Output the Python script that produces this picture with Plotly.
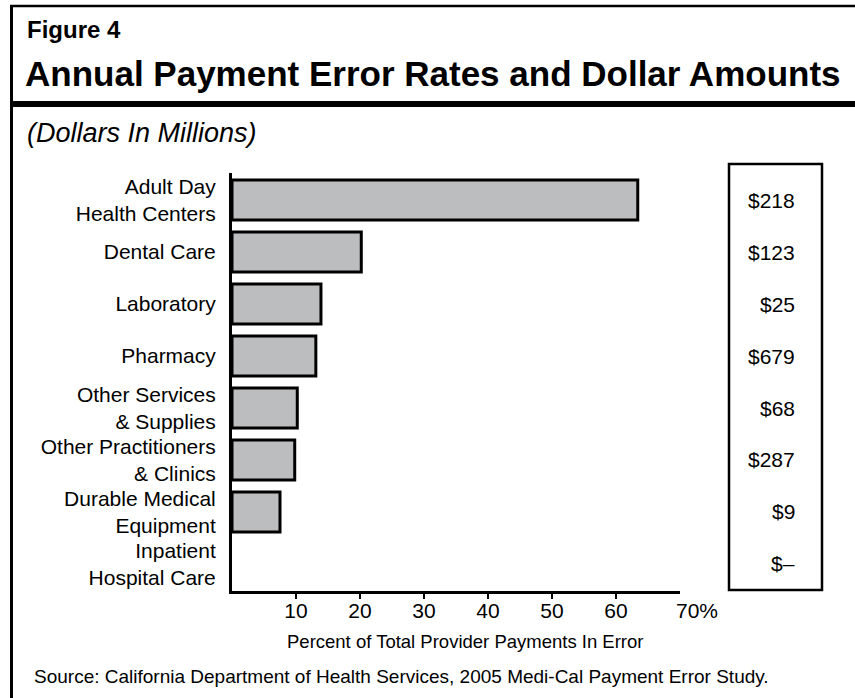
import plotly.graph_objects as go

# Error rates by provider type (percent of total provider payments in error)
categories = [
    "Adult Day<br>Health Centers",
    "Dental Care",
    "Laboratory",
    "Pharmacy",
    "Other Services<br>& Supplies",
    "Other Practitioners<br>& Clinics",
    "Durable Medical<br>Equipment",
    "Inpatient<br>Hospital Care",
]
error_rates = [63.4, 20.2, 13.9, 13.1, 10.2, 9.8, 7.5, 0.0]
dollar_labels = ["$218", "$123", "$25", "$679", "$68", "$287", "$9", "$–"]
x_ticks = [10, 20, 30, 40, 50, 60]
x_tick_text = ["10", "20", "30", "40", "50", "60"]

W, H = 855, 698
FONT = "Liberation Sans, Arial, Helvetica, sans-serif"


def px(x):
    return x / W


def py(y):
    return 1 - y / H


# a zero-rate bar gets no outline so nothing is drawn for it
outline_widths = [3 if v > 0 else 0 for v in error_rates]

fig = go.Figure()
fig.add_trace(go.Bar(
    y=categories,
    x=error_rates,
    orientation="h",
    width=0.77,
    marker=dict(color="#bcbdbf", line=dict(color="black", width=outline_widths)),
    hoverinfo="x+y",
))

annotations = []
# Dollar amounts column, aligned to each category row
for cat, lab in zip(categories, dollar_labels):
    annotations.append(dict(
        x=px(797), xref="paper", y=cat, yref="y",
        text=lab, showarrow=False, xanchor="right", yanchor="middle",
        font=dict(family=FONT, size=21, color="black"),
    ))

# Last x tick label carries the percent sign
annotations.append(dict(
    x=70, xref="x", y=py(610), yref="paper", text="70%", showarrow=False,
    xanchor="left", yanchor="middle", xshift=-6,
    font=dict(family=FONT, size=21, color="black"),
))

annotations += [
    dict(x=px(25), y=py(29), xref="paper", yref="paper", text="<b>Figure 4</b>",
         showarrow=False, xanchor="left", yanchor="middle",
         font=dict(family=FONT, size=24, color="black")),
    dict(x=px(23), y=py(73), xref="paper", yref="paper",
         text="<b>Annual Payment Error Rates and Dollar Amounts</b>",
         showarrow=False, xanchor="left", yanchor="middle",
         font=dict(family=FONT, size=35, color="black")),
    dict(x=px(25), y=py(133), xref="paper", yref="paper",
         text="<i>(Dollars In Millions)</i>",
         showarrow=False, xanchor="left", yanchor="middle",
         font=dict(family=FONT, size=27, color="black")),
    dict(x=px(465), y=py(641), xref="paper", yref="paper",
         text="Percent of Total Provider Payments In Error",
         showarrow=False, xanchor="center", yanchor="middle",
         font=dict(family=FONT, size=18.5, color="black")),
    dict(x=px(32), y=py(676), xref="paper", yref="paper",
         text="Source: California Department of Health Services, 2005 Medi-Cal Payment Error Study.",
         showarrow=False, xanchor="left", yanchor="middle",
         font=dict(family=FONT, size=19, color="black")),
]

shapes = [
    # outer frame: left edge and top rule
    dict(type="line", xref="paper", yref="paper", x0=px(11.5), x1=px(11.5),
         y0=py(5), y1=0, line=dict(color="black", width=3)),
    dict(type="line", xref="paper", yref="paper", x0=px(10), x1=1,
         y0=py(6), y1=py(6), line=dict(color="black", width=2.5)),
    # heavy rule below the title
    dict(type="rect", xref="paper", yref="paper", x0=px(10), x1=1,
         y0=py(107), y1=py(101), fillcolor="black", line=dict(width=0)),
    # box around the dollar column
    dict(type="rect", xref="paper", yref="paper", x0=px(729), x1=px(822),
         y0=py(590), y1=py(164), line=dict(color="black", width=2.5)),
]

fig.update_layout(
    width=W, height=H,
    margin=dict(l=0, r=0, t=0, b=0),
    paper_bgcolor="white", plot_bgcolor="white",
    showlegend=False,
    font=dict(family=FONT, color="black"),
    annotations=annotations,
    shapes=shapes,
    xaxis=dict(
        domain=[px(232), px(680)], range=[0, 70],
        tickvals=x_ticks, ticktext=x_tick_text,
        ticks="outside", ticklen=5, tickwidth=2, tickcolor="black",
        ticklabelstandoff=-6,
        showline=True, linecolor="black", linewidth=3,
        showgrid=False, zeroline=False,
        tickfont=dict(family=FONT, size=21, color="black"),
    ),
    yaxis=dict(
        domain=[py(591), py(173)], range=[7.52, -0.52],
        type="category", ticks="", ticklabelstandoff=9,
        showline=True, linecolor="black", linewidth=3,
        showgrid=False, zeroline=False,
        tickfont=dict(family=FONT, size=21, color="black"),
    ),
)

fig.write_html("out.html")
